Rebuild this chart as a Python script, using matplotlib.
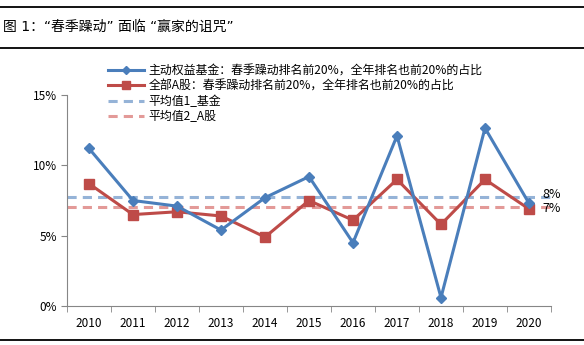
import matplotlib.pyplot as plt
from matplotlib.lines import Line2D

plt.rcParams['font.family'] = ['Noto Sans CJK SC', 'DejaVu Sans']

years = ["2010", "2011", "2012", "2013", "2014", "2015", "2016", "2017", "2018", "2019", "2020"]
fund = [11.2, 7.5, 7.1, 5.4, 7.7, 9.2, 4.5, 12.1, 0.6, 12.65, 7.3]
stock = [8.7, 6.5, 6.7, 6.4, 4.9, 7.5, 6.1, 9.0, 5.8, 9.0, 6.9]
avg_fund = 7.75
avg_stock = 7.05
avg_labels = ["8%", "7%"]
yticks = [0, 5, 10, 15]

legend_labels = [
    "主动权益基金：春季躁动排名前20%，全年排名也前20%的占比",
    "全部A股：春季躁动排名前20%，全年排名也前20%的占比",
    "平均值1_基金",
    "平均值2_A股",
]

blue = "#4a7ebb"
red = "#be4b48"
lblue = "#95b3d7"
lred = "#e39a98"

fig = plt.figure(figsize=(5.84, 3.45), dpi=100)
ax = fig.add_axes([0.1147, 0.113, 0.8288, 0.6116])

x = list(range(len(years)))
ax.plot([-0.5, len(years) - 0.5], [avg_fund] * 2, color=lblue, lw=2.2, ls=(0, (3, 2)))
ax.plot([-0.5, len(years) - 0.5], [avg_stock] * 2, color=lred, lw=2.2, ls=(0, (3, 2)))
ax.plot(x, stock, color=red, lw=2.2, marker="s", ms=7)
ax.plot(x, fund, color=blue, lw=2.2, marker="D", ms=5)

ax.text(len(years) - 0.7, avg_fund + 0.2, avg_labels[0], fontsize=9, va="center")
ax.text(len(years) - 0.7, avg_stock - 0.15, avg_labels[1], fontsize=9, va="center")

ax.set_xlim(-0.5, len(years) - 0.5)
ax.set_ylim(0, 15)
ax.set_yticks(yticks)
ax.set_yticklabels([f"{v}%" for v in yticks], fontsize=8.5)
ax.set_xticks(x)
ax.set_xticklabels(years, fontsize=8.5)
ax.set_xticks([i - 0.5 for i in range(len(years) + 1)], minor=True)
ax.tick_params(axis="x", which="major", length=0, pad=8)
ax.tick_params(axis="x", which="minor", length=4, color="#868686")
ax.tick_params(axis="y", length=4, color="#868686", pad=3)
for s in ["top", "right"]:
    ax.spines[s].set_visible(False)
for s in ["left", "bottom"]:
    ax.spines[s].set_color("#868686")

handles = [
    Line2D([], [], color=blue, lw=2.2, marker="D", ms=4),
    Line2D([], [], color=red, lw=2.2, marker="s", ms=6),
    Line2D([], [], color=lblue, lw=2.2, ls=(0, (3, 2))),
    Line2D([], [], color=lred, lw=2.2, ls=(0, (3, 2))),
]
fig.legend(handles, legend_labels, loc="upper left", bbox_to_anchor=(0.175, 0.831),
           frameon=False, fontsize=8.6, handlelength=3.0, handletextpad=0.4,
           labelspacing=0.2, borderpad=0)

fig.text(0.005, 0.922, "图 1：“春季躁动” 面临 “赢家的诅咒”", fontsize=10,
         va="center", family=["DejaVu Sans", "Noto Sans CJK SC"])
for yy in [0.98, 0.861, 0.015]:
    fig.add_artist(Line2D([0, 1], [yy, yy], color="black", lw=1.3))

fig.savefig("out.png", dpi=100)
